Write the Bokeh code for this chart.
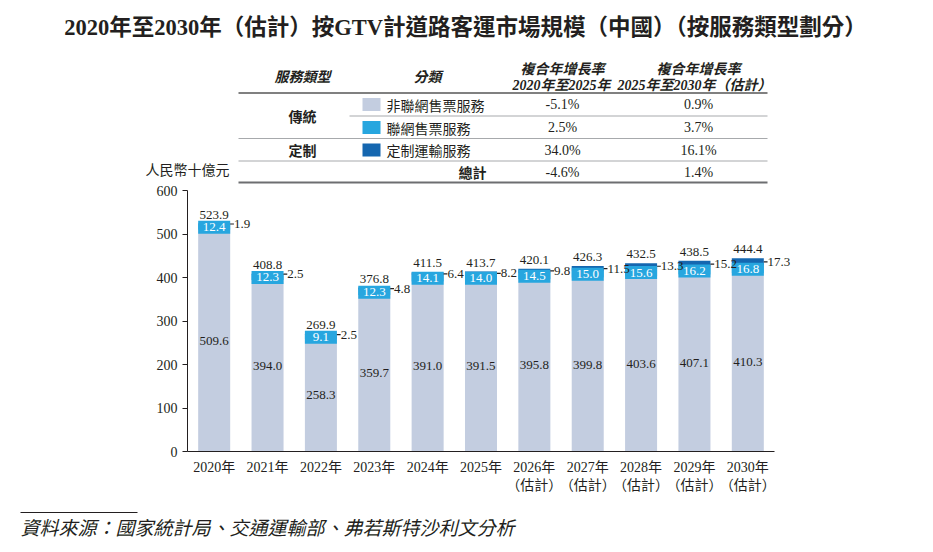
from bokeh.plotting import figure
from bokeh.layouts import column
from bokeh.models import Range1d, FixedTicker
from bokeh.core.properties import value
from bokeh.embed import file_html
from bokeh.resources import INLINE
import numpy as np

# ---------------- data ----------------
years = ["2020年", "2021年", "2022年", "2023年", "2024年", "2025年",
         "2026年\n（估計）", "2027年\n（估計）", "2028年\n（估計）", "2029年\n（估計）", "2030年\n（估計）"]
non_online = [509.6, 394.0, 258.3, 359.7, 391.0, 391.5, 395.8, 399.8, 403.6, 407.1, 410.3]
online = [12.4, 12.3, 9.1, 12.3, 14.1, 14.0, 14.5, 15.0, 15.6, 16.2, 16.8]
custom = [1.9, 2.5, 2.5, 4.8, 6.4, 8.2, 9.8, 11.5, 13.3, 15.2, 17.3]
totals = [523.9, 408.8, 269.9, 376.8, 411.5, 413.7, 420.1, 426.3, 432.5, 438.5, 444.4]
y_ticks = [0, 100, 200, 300, 400, 500, 600]

service_types = ["傳統", "定制"]
segments = ["非聯網售票服務", "聯網售票服務", "定制運輸服務"]
cagr_2020_2025 = ["-5.1%", "2.5%", "34.0%", "-4.6%"]
cagr_2025_2030 = ["0.9%", "3.7%", "16.1%", "1.4%"]

title_text = "2020年至2030年（估計）按GTV計道路客運市場規模（中國）（按服務類型劃分）"
unit_text = "人民幣十億元"
source_text = "資料來源：國家統計局、交通運輸部、弗若斯特沙利文分析"

# ---------------- style ----------------
C_LIGHT = "#c3cde0"
C_ONLINE = "#27a6df"
C_CUSTOM = "#1567b0"
C_TEXT = "#231f20"
SERIF = "Liberation Serif, 'Noto Sans CJK TC'"
CJK = "'Noto Sans CJK TC', Liberation Serif"

W, H = 933, 552
TOP_H, BOT_H = 185, 52
MAIN_H = H - TOP_H - BOT_H
FL, FR, FT, FB = 187, 790, 190, 451  # frame edges in page px


def canvas_fig(h, y0):
    f = figure(width=W, height=h, x_range=Range1d(0, W), y_range=Range1d(y0 + h, y0),
               output_backend="svg", toolbar_location=None, frame_align=False,
               min_border_left=0, min_border_right=0, min_border_top=0, min_border_bottom=0)
    f.axis.visible = False
    f.grid.visible = False
    f.outline_line_color = None
    f.background_fill_color = "white"
    f.border_fill_color = "white"
    return f


def txt(f, s, x, y, size="14px", align="left", font=SERIF, style="normal", color=C_TEXT):
    f.text(x=[x], y=[y], text=[s], text_font=value(font), text_font_size=value(size),
           text_align=value(align), text_baseline=value("middle"), text_font_style=value(style),
           text_color=color)


def hline(f, x0, x1, y, w, color):
    f.segment(x0=[x0], y0=[y], x1=[x1], y1=[y], line_width=w, line_color=color)


# ---------------- top: title + table ----------------
top = canvas_fig(TOP_H, 0)
txt(top, title_text, 465, 27, size="22.5px", align="center", style="bold")

txt(top, "服務類型", 302, 75, align="center", font=CJK, style="bold italic")
txt(top, "分類", 427, 75, align="center", font=CJK, style="bold italic")
txt(top, "複合年增長率", 562, 67, align="center", font=CJK, style="bold italic")
txt(top, "2020年至2025年", 561, 85, align="center", style="bold italic")
txt(top, "複合年增長率", 698, 67, align="center", font=CJK, style="bold italic")
txt(top, "2025年至2030年（估計）", 694, 85, align="center", style="bold italic")

hline(top, 238, 767, 92.5, 2, "#808080")
hline(top, 349, 767, 115.5, 1, "#a7a9ac")
hline(top, 238, 767, 138, 1, "#a7a9ac")
hline(top, 238, 767, 160.5, 1, "#a7a9ac")
hline(top, 238, 767, 182, 2, "#6d6e71")

row_y = [104, 127, 149.5, 171.5]
sw_colors = [C_LIGHT, C_ONLINE, C_CUSTOM]
for i, name in enumerate(segments):
    top.quad(left=[362], right=[380], top=[row_y[i] - 6.5], bottom=[row_y[i] + 6.5],
             fill_color=sw_colors[i], line_color=None)
    txt(top, name, 386, row_y[i], font=CJK)
txt(top, service_types[0], 302, (row_y[0] + row_y[1]) / 2, align="center", font=CJK, style="bold")
txt(top, service_types[1], 302, row_y[2], align="center", font=CJK, style="bold")
txt(top, "總計", 472, row_y[3], align="center", font=CJK, style="bold")
for i in range(4):
    txt(top, cagr_2020_2025[i], 562, row_y[i], align="center")
    txt(top, cagr_2025_2030[i], 698, row_y[i], align="center")

txt(top, unit_text, 145, 168, font=CJK)

# ---------------- main chart ----------------
p = figure(width=W, height=MAIN_H, x_range=Range1d(-0.5, 10.8), y_range=Range1d(0, 600),
           output_backend="svg", toolbar_location=None, frame_align=False,
           min_border_left=FL, min_border_right=W - FR,
           min_border_top=FT - TOP_H, min_border_bottom=TOP_H + MAIN_H - FB)
p.outline_line_color = None
p.xgrid.visible = False
p.ygrid.visible = False
p.background_fill_color = "white"
p.border_fill_color = "white"

x = np.arange(len(years))
no = np.array(non_online)
on = np.array(online)
cu = np.array(custom)
BW = 0.6

p.vbar(x=x, bottom=0, top=no, width=BW, fill_color=C_LIGHT, line_color=None)
p.vbar(x=x, bottom=no, top=no + on, width=BW, fill_color=C_ONLINE, line_color=None)
p.vbar(x=x, bottom=no + on, top=no + on + cu, width=BW, fill_color=C_CUSTOM, line_color=None)

p.rect(x=x, y=no + on / 2, width=BW, height=13, height_units="screen",
       fill_color=C_ONLINE, line_color=None)

fs = "13px"
p.text(x=x, y=no / 2, text=[f"{v:.1f}" for v in non_online], text_font=value(SERIF),
       text_font_size=fs, text_color=C_TEXT, text_align="center", text_baseline="middle")
p.text(x=x, y=no + on / 2, text=[f"{v:.1f}" for v in online], text_font=value(SERIF),
       text_font_size=fs, text_color="white", text_align="center", text_baseline="middle")
p.text(x=x, y=np.array(totals), text=[f"{v:.1f}" for v in totals], text_font=value(SERIF),
       text_font_size=fs, text_color=C_TEXT, text_align="center", text_baseline="bottom", y_offset=-5)
cy = no + on + cu / 2
p.segment(x0=x + BW / 2, y0=cy, x1=x + BW / 2 + 0.07, y1=cy, line_color=C_TEXT, line_width=1.2)
p.text(x=x + BW / 2 + 0.07, y=cy, text=[f"{v:.1f}" for v in custom], text_font=value(SERIF),
       text_font_size=fs, text_color=C_TEXT, text_align="left", text_baseline="middle")

p.yaxis.ticker = FixedTicker(ticks=y_ticks)
p.yaxis.minor_tick_line_color = None
p.yaxis.major_tick_out = 5
p.yaxis.major_tick_in = 0
p.yaxis.axis_line_color = C_TEXT
p.yaxis.major_tick_line_color = C_TEXT
p.yaxis.major_label_text_font = SERIF
p.yaxis.major_label_text_font_size = "14px"
p.yaxis.major_label_text_color = C_TEXT
p.yaxis.major_label_standoff = 5

p.xaxis.ticker = FixedTicker(ticks=list(range(len(years))))
p.xaxis.major_label_overrides = {i: lab for i, lab in enumerate(years)}
p.xaxis.bounds = (-0.5, 10.5)
p.xaxis.minor_tick_line_color = None
p.xaxis.major_tick_out = 0
p.xaxis.major_tick_in = 0
p.xaxis.axis_line_color = C_TEXT
p.xaxis.major_label_text_font = SERIF
p.xaxis.major_label_text_font_size = "14px"
p.xaxis.major_label_text_color = C_TEXT
p.xaxis.major_label_standoff = 8

# ---------------- bottom: source ----------------
bot = canvas_fig(BOT_H, TOP_H + MAIN_H)
hline(bot, 20, 137, 512, 1, C_TEXT)
txt(bot, source_text, 20, 526, size="19px", font=CJK, style="italic")

layout = column(top, p, bot, spacing=0)
open("out.html", "w").write(file_html(layout, INLINE))
